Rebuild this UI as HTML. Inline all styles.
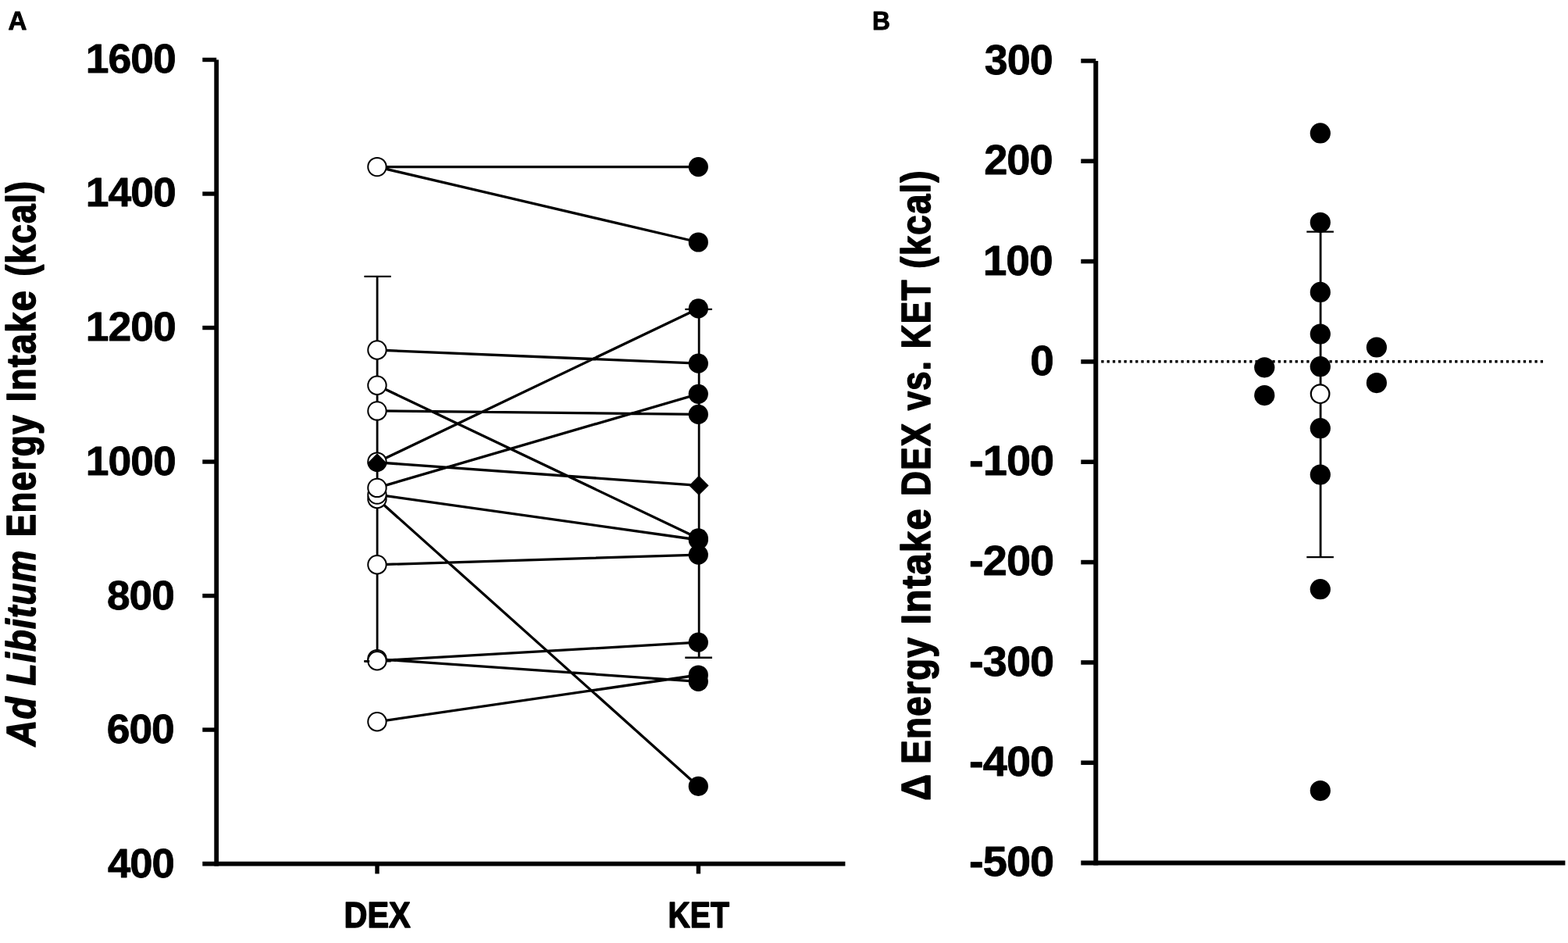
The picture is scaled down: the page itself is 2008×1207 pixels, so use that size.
<!DOCTYPE html>
<html lang="en">
<head>
<meta charset="utf-8">
<title>Ad Libitum Energy Intake: DEX vs. KET</title>
<style>
html,body{margin:0;padding:0;background:#fff;}
body{width:2008px;height:1207px;overflow:hidden;}
svg{display:block;}
text{font-family:"Liberation Sans",sans-serif;font-weight:bold;fill:#000;}
.it{font-style:italic;}
.axA{stroke:#000;stroke-width:5.8;fill:none;}
.axB{stroke:#000;stroke-width:6;fill:none;}
.tkA{stroke:#000;stroke-width:5.4;fill:none;}
.tkB{stroke:#000;stroke-width:5.6;fill:none;}
.ln{stroke:#000;stroke-width:3.3;fill:none;}
.eb{stroke:#000;stroke-width:2.8;fill:none;}
.cap{stroke:#000;stroke-width:2.4;fill:none;}
.oc{fill:#fff;stroke:#000;stroke-width:2;}
.fc{fill:#000;stroke:none;}
.lab{stroke:#000;stroke-linejoin:round;}
.tl{stroke:#000;stroke-width:0.8px;stroke-linejoin:round;}
</style>
</head>
<body>
<svg width="2008" height="1207" viewBox="0 0 2008 1207" role="img" aria-label="Ad libitum energy intake after DEX and KET">
<rect x="0" y="0" width="2008" height="1207" fill="#fff"/>
<g id="panelA">
<text transform="translate(10.53 38) scale(1.0027 1)" font-size="33.0" stroke="#000" stroke-width="0.9" stroke-linejoin="round">A</text>
<path class="axA" d="M277.2 76.5V1108.5"/>
<path class="axA" d="M259.3 1105.6H1082.4"/>
<path class="tkA" d="M259.3 76.5H277.2"/>
<path class="tkA" d="M259.3 248.02H277.2"/>
<path class="tkA" d="M259.3 419.53H277.2"/>
<path class="tkA" d="M259.3 591.05H277.2"/>
<path class="tkA" d="M259.3 762.57H277.2"/>
<path class="tkA" d="M259.3 934.08H277.2"/>
<path class="tkA" d="M483.0 1105.6V1118.4"/>
<path class="tkA" d="M894.4 1105.6V1118.4"/>
<text class="tl" transform="translate(109.73 92.5) scale(1.0433 1)" font-size="51.3" letter-spacing="-0.96">1600</text>
<text class="tl" transform="translate(109.73 264.25) scale(1.0433 1)" font-size="51.3" letter-spacing="-0.96">1400</text>
<text class="tl" transform="translate(109.73 436) scale(1.0433 1)" font-size="51.3" letter-spacing="-0.96">1200</text>
<text class="tl" transform="translate(109.73 607.75) scale(1.0433 1)" font-size="51.3" letter-spacing="-0.96">1000</text>
<text class="tl" transform="translate(137.01 779.5) scale(1.0371 1)" font-size="51.3" letter-spacing="-0.96">800</text>
<text class="tl" transform="translate(136.75 951.25) scale(1.0403 1)" font-size="51.3" letter-spacing="-0.96">600</text>
<text class="tl" transform="translate(137.9 1123) scale(1.0265 1)" font-size="51.3" letter-spacing="-0.97">400</text>
<text transform="translate(440.53 1186.7) scale(0.8885 1)" font-size="46.6" stroke="#000" stroke-width="1.48" stroke-linejoin="round">DEX</text>
<text transform="translate(855.58 1186.7) scale(0.8406 1)" font-size="46.6" stroke="#000" stroke-width="1.52" stroke-linejoin="round">KET</text>
<text class="lab" transform="translate(45.2 1100) rotate(-90)" font-size="51.0" stroke-width="1.6"><tspan class="it" x="145.04" textLength="63.95" lengthAdjust="spacingAndGlyphs" letter-spacing="1.42">Ad</tspan> <tspan class="it" x="222.8" textLength="173.68" lengthAdjust="spacingAndGlyphs" letter-spacing="1.43">Libitum</tspan> <tspan x="412.85" textLength="156.96" lengthAdjust="spacingAndGlyphs" letter-spacing="1.48">Energy</tspan> <tspan x="585.55" textLength="143.63" lengthAdjust="spacingAndGlyphs" letter-spacing="1.39">Intake</tspan> <tspan x="746.41" textLength="122.77" lengthAdjust="spacingAndGlyphs" letter-spacing="1.48">(kcal)</tspan></text>
<path class="eb" d="M483.1 353.9V846.4"/>
<path class="cap" d="M466.4 353.9H500.7M466.4 846.4H500.7"/>
<path class="eb" d="M895.15 395.9V841.7"/>
<path class="cap" d="M877.3 395.9H912M877.3 841.7H912"/>
<path class="ln" d="M482.95 213.6L894.3 213.6M482.95 213.6L894.3 310M482.95 448L894.3 465.2M482.95 493.3L894.3 688.9M482.95 525.9L894.3 530.4M482.95 591.6L894.3 394.9M482.95 591.8L894.3 621.4M482.95 624.4L894.3 504.3M482.95 633.1L894.3 691M482.95 638.5L894.3 1006.4M482.95 722.8L894.3 710.1M482.95 845.8L894.3 822.2M482.95 843.6L894.3 872.3M482.95 923.8L894.3 864"/>
<circle class="oc" cx="482.95" cy="213.6" r="11.7"/>
<circle class="oc" cx="482.95" cy="448" r="11.7"/>
<circle class="oc" cx="482.95" cy="493.3" r="11.7"/>
<circle class="oc" cx="482.95" cy="525.9" r="11.7"/>
<circle class="oc" cx="482.95" cy="591.1" r="11.7"/>
<circle class="oc" cx="482.95" cy="638.5" r="11.7"/>
<circle class="oc" cx="482.95" cy="633.1" r="11.7"/>
<circle class="oc" cx="482.95" cy="624.4" r="11.7"/>
<circle class="oc" cx="482.95" cy="722.8" r="11.7"/>
<circle class="oc" cx="482.95" cy="843.6" r="11.7"/>
<circle class="oc" cx="482.95" cy="845.8" r="11.7"/>
<circle class="oc" cx="482.95" cy="923.8" r="11.7"/>
<path class="eb" d="M466.4 846.4H473.2"/>
<circle class="fc" cx="894.3" cy="213.6" r="12.6"/>
<circle class="fc" cx="894.3" cy="310" r="12.6"/>
<circle class="fc" cx="894.3" cy="394.9" r="12.6"/>
<circle class="fc" cx="894.3" cy="465.2" r="12.6"/>
<circle class="fc" cx="894.3" cy="504.3" r="12.6"/>
<circle class="fc" cx="894.3" cy="530.4" r="12.6"/>
<circle class="fc" cx="894.3" cy="688.9" r="12.6"/>
<circle class="fc" cx="894.3" cy="691" r="12.6"/>
<circle class="fc" cx="894.3" cy="710.1" r="12.6"/>
<circle class="fc" cx="894.3" cy="822.2" r="12.6"/>
<circle class="fc" cx="894.3" cy="864" r="12.6"/>
<circle class="fc" cx="894.3" cy="872.3" r="12.6"/>
<circle class="fc" cx="894.3" cy="1006.4" r="12.6"/>
<path class="fc" d="M470.6 591.6A12.3 12.3 0 0 0 495.2 591.6Z"/>
<path class="fc" d="M483 580.3L494.9 592.2L483 604.1L471.1 592.2Z"/>
<path class="fc" d="M895 608.8L907.6 621.4L895 634L882.4 621.4Z"/>
</g>
<g id="panelB">
<text transform="translate(1117.12 38) scale(0.9640 1)" font-size="33.0" stroke="#000" stroke-width="0.92" stroke-linejoin="round">B</text>
<path class="axB" d="M1403.3 77.9V1107.6"/>
<path class="axB" d="M1384.3 1104.6H2004.4"/>
<path class="tkB" d="M1384.3 77.9H1403.3"/>
<path class="tkB" d="M1384.3 206.24H1403.3"/>
<path class="tkB" d="M1384.3 334.57H1403.3"/>
<path class="tkB" d="M1384.3 462.91H1403.3"/>
<path class="tkB" d="M1384.3 591.25H1403.3"/>
<path class="tkB" d="M1384.3 719.59H1403.3"/>
<path class="tkB" d="M1384.3 847.92H1403.3"/>
<path class="tkB" d="M1384.3 976.26H1403.3"/>
<text class="tl" transform="translate(1260.87 95.2) scale(0.9979 1)" font-size="53.9" letter-spacing="-1">300</text>
<text class="tl" transform="translate(1260.22 223.42) scale(1.0052 1)" font-size="53.9" letter-spacing="-0.99">200</text>
<text class="tl" transform="translate(1258.63 351.64) scale(1.0234 1)" font-size="53.9" letter-spacing="-0.98">100</text>
<text class="tl" transform="translate(1319.28 479.86) scale(1.0200 1)" font-size="53.9">0</text>
<text class="tl" transform="translate(1241.11 608.08) scale(1.0390 1)" font-size="53.9" letter-spacing="-0.96">-100</text>
<text class="tl" transform="translate(1241.11 736.29) scale(1.0390 1)" font-size="53.9" letter-spacing="-0.96">-200</text>
<text class="tl" transform="translate(1241.11 864.51) scale(1.0390 1)" font-size="53.9" letter-spacing="-0.96">-300</text>
<text class="tl" transform="translate(1241.11 992.73) scale(1.0390 1)" font-size="53.9" letter-spacing="-0.96">-400</text>
<text class="tl" transform="translate(1241.11 1120.95) scale(1.0390 1)" font-size="53.9" letter-spacing="-0.96">-500</text>
<text class="lab" transform="translate(1190.8 1100) rotate(-90)" font-size="52.6" stroke-width="1.6"><tspan x="75.2" textLength="34.89" lengthAdjust="spacingAndGlyphs" letter-spacing="1.44">Δ</tspan> <tspan x="122.14" textLength="162.99" lengthAdjust="spacingAndGlyphs" letter-spacing="1.47">Energy</tspan> <tspan x="300.62" textLength="149.33" lengthAdjust="spacingAndGlyphs" letter-spacing="1.37">Intake</tspan> <tspan x="465.05" textLength="94.41" lengthAdjust="spacingAndGlyphs" letter-spacing="1.53">DEX</tspan> <tspan x="574.73" textLength="64.45" lengthAdjust="spacingAndGlyphs" letter-spacing="1.54">vs.</tspan> <tspan x="653.75" textLength="89.09" lengthAdjust="spacingAndGlyphs" letter-spacing="1.58">KET</tspan> <tspan x="756.33" textLength="126.51" lengthAdjust="spacingAndGlyphs" letter-spacing="1.48">(kcal)</tspan></text>
<path d="M1410.25 462.75H1976" stroke="#000" stroke-width="3.3" stroke-dasharray="3.3 4.005" fill="none"/>
<path class="eb" d="M1691.1 296.6V713.1"/>
<path class="cap" d="M1673.3 296.6H1707.9M1673.3 713.1H1707.9"/>
<circle class="fc" cx="1690.8" cy="170.4" r="13.1"/>
<circle class="fc" cx="1690.8" cy="284.8" r="13.1"/>
<circle class="fc" cx="1690.8" cy="373.9" r="13.1"/>
<circle class="fc" cx="1690.8" cy="427.6" r="13.1"/>
<circle class="fc" cx="1690.8" cy="469.2" r="13.1"/>
<circle class="fc" cx="1690.8" cy="548.2" r="13.1"/>
<circle class="fc" cx="1690.8" cy="607.6" r="13.1"/>
<circle class="fc" cx="1690.8" cy="754.2" r="13.1"/>
<circle class="fc" cx="1690.8" cy="1012.1" r="13.1"/>
<circle class="fc" cx="1619.3" cy="470.3" r="13.1"/>
<circle class="fc" cx="1619.3" cy="506.1" r="13.1"/>
<circle class="fc" cx="1762.9" cy="444.5" r="13.1"/>
<circle class="fc" cx="1762.9" cy="490.1" r="13.1"/>
<circle class="oc" cx="1690.6" cy="504.2" r="11.8" style="stroke-width:2.2"/>
</g>
</svg>
</body>
</html>
